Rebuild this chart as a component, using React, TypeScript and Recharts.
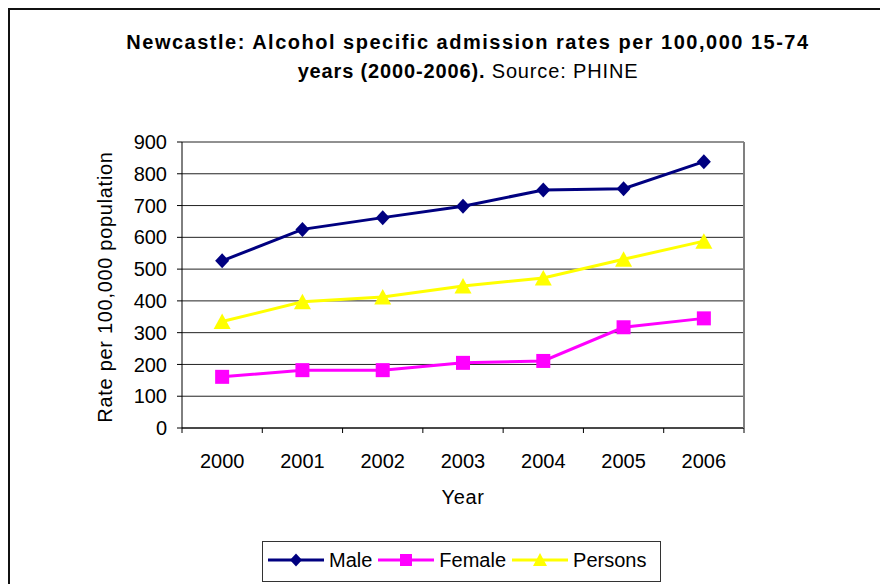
import React from 'react';
import { LineChart, Line, XAxis, YAxis, CartesianGrid } from 'recharts';

const years = ['2000', '2001', '2002', '2003', '2004', '2005', '2006'];
const male = [526, 625, 662, 698, 749, 753, 838];
const female = [161, 182, 182, 205, 211, 317, 345];
const persons = [335, 397, 412, 447, 472, 531, 588];
const yTicks = [0, 100, 200, 300, 400, 500, 600, 700, 800, 900];

const data = years.map((year, i) => ({
  year,
  male: male[i],
  female: female[i],
  persons: persons[i],
}));

const FONT = '"Liberation Sans", Arial, sans-serif';
const NAVY = '#000080';
const MAGENTA = '#FF00FF';
const YELLOW = '#FFFF00';
const X_TICK_SIZE = 6;
const X_TICK_MARGIN = 20;

const Diamond = (props: any) => {
  const { cx, cy, index } = props;
  if (cx == null || cy == null) return <g key={`d${index}`} />;
  return (
    <path
      key={`d${index}`}
      d={`M${cx},${cy - 7.5}L${cx + 7},${cy}L${cx},${cy + 7.5}L${cx - 7},${cy}Z`}
      fill={NAVY}
      stroke="none"
    />
  );
};

const Square = (props: any) => {
  const { cx, cy, index } = props;
  if (cx == null || cy == null) return <g key={`s${index}`} />;
  return <rect key={`s${index}`} x={cx - 7} y={cy - 7} width={14} height={14} fill={MAGENTA} stroke="none" />;
};

const Triangle = (props: any) => {
  const { cx, cy, index } = props;
  if (cx == null || cy == null) return <g key={`t${index}`} />;
  return (
    <path
      key={`t${index}`}
      d={`M${cx},${cy - 8}L${cx + 8.5},${cy + 7.5}L${cx - 8.5},${cy + 7.5}Z`}
      fill={YELLOW}
      stroke="none"
    />
  );
};

const XTick = (props: any) => {
  const { x, y, payload, index, visibleTicksCount, width } = props;
  const count = visibleTicksCount || years.length;
  const band = Number(width) / count;
  const axisY = y - X_TICK_SIZE - X_TICK_MARGIN;
  return (
    <g>
      <line x1={x - band / 2} x2={x - band / 2} y1={axisY} y2={axisY + 5} stroke="#000" strokeWidth={1} />
      {index === count - 1 && (
        <line x1={x + band / 2} x2={x + band / 2} y1={axisY} y2={axisY + 5} stroke="#000" strokeWidth={1} />
      )}
      <text x={x} y={y} dy="0.71em" textAnchor="middle" fontFamily={FONT} fontSize={20} fill="#000">
        {payload.value}
      </text>
    </g>
  );
};

const YLabel = (props: any) => {
  const vb = props.viewBox || {};
  const x = vb.x - 10;
  const y = vb.y + vb.height / 2 + 2;
  return (
    <text
      x={x}
      y={y}
      transform={`rotate(-90, ${x}, ${y})`}
      textAnchor="middle"
      fontFamily={FONT}
      fontSize={20}
      letterSpacing={0.7}
      fill="#000"
    >
      Rate per 100,000 population
    </text>
  );
};

const XLabel = (props: any) => {
  const vb = props.viewBox || {};
  const x = vb.x + vb.width / 2;
  return (
    <text x={x} y={vb.y + 76} textAnchor="middle" fontFamily={FONT} fontSize={20} letterSpacing={0.6} fill="#000">
      Year
    </text>
  );
};

const LegendItem = ({ color, shape, label }: { color: string; shape: string; label: string }) => (
  <div style={{ display: 'flex', alignItems: 'center' }}>
    <svg width={56} height={20} style={{ display: 'block' }}>
      <line x1={0} y1={10} x2={56} y2={10} stroke={color} strokeWidth={3} />
      {shape === 'diamond' && <path d="M28,3.5L34,10L28,16.5L22,10Z" fill={color} />}
      {shape === 'square' && <rect x={22} y={4} width={12} height={12} fill={color} />}
      {shape === 'triangle' && <path d="M28,3L35,16L21,16Z" fill={color} />}
    </svg>
    <span style={{ marginLeft: 5, fontSize: 20, fontFamily: FONT, color: '#000', lineHeight: '20px' }}>{label}</span>
  </div>
);

export default function App() {
  return (
    <div
      style={{
        position: 'fixed',
        left: 0,
        top: 0,
        width: 880,
        height: 584,
        overflow: 'hidden',
        background: '#fff',
        fontFamily: FONT,
      }}
    >
      <div
        style={{
          position: 'absolute',
          left: 8,
          top: 8,
          width: 900,
          height: 600,
          borderTop: '2px solid #111',
          borderLeft: '2px solid #111',
          boxSizing: 'border-box',
        }}
      />
      <div
        style={{
          position: 'absolute',
          left: 0,
          width: 936,
          top: 28,
          textAlign: 'center',
          fontSize: 20,
          lineHeight: '29px',
          color: '#000',
          whiteSpace: 'nowrap',
        }}
      >
        <div style={{ fontWeight: 'bold', letterSpacing: 1.5 }}>
          Newcastle: Alcohol specific admission rates per 100,000 15-74
        </div>
        <div style={{ letterSpacing: 0.85 }}>
          <span style={{ fontWeight: 'bold' }}>years (2000-2006).</span> Source: PHINE
        </div>
      </div>
      <div style={{ position: 'absolute', left: 0, top: 0 }}>
        <LineChart width={880} height={584} data={data} margin={{ top: 142, right: 135, left: 122, bottom: 116 }}>
          <CartesianGrid horizontal vertical={false} stroke="#222" strokeWidth={1} />
          <XAxis
            dataKey="year"
            type="category"
            scale="band"
            height={40}
            axisLine={{ stroke: '#000' }}
            tickLine={false}
            tickSize={X_TICK_SIZE}
            tickMargin={X_TICK_MARGIN}
            tick={<XTick />}
            interval={0}
            label={<XLabel />}
          />
          <YAxis
            width={60}
            domain={[0, 900]}
            ticks={yTicks}
            interval={0}
            tickSize={5}
            tickMargin={10}
            tickLine={{ stroke: '#000' }}
            axisLine={{ stroke: '#000' }}
            tick={{ fontFamily: FONT, fontSize: 20, fill: '#000' }}
            label={<YLabel />}
          />
          <YAxis
            yAxisId="right"
            orientation="right"
            width={1}
            domain={[0, 900]}
            ticks={yTicks}
            tick={false}
            tickLine={false}
            axisLine={{ stroke: '#808080', strokeWidth: 2 }}
          />
          <Line
            dataKey="male"
            stroke={NAVY}
            strokeWidth={3}
            dot={Diamond}
            activeDot={false}
            isAnimationActive={false}
          />
          <Line
            dataKey="female"
            stroke={MAGENTA}
            strokeWidth={3}
            dot={Square}
            activeDot={false}
            isAnimationActive={false}
          />
          <Line
            dataKey="persons"
            stroke={YELLOW}
            strokeWidth={3}
            dot={Triangle}
            activeDot={false}
            isAnimationActive={false}
          />
        </LineChart>
      </div>
      <div
        style={{
          position: 'absolute',
          left: 262,
          top: 541,
          width: 399,
          height: 41,
          border: '1px solid #333',
          boxSizing: 'border-box',
          display: 'flex',
          alignItems: 'center',
          paddingLeft: 5,
          paddingBottom: 3,
          gap: 6,
          background: '#fff',
        }}
      >
        <LegendItem color={NAVY} shape="diamond" label="Male" />
        <LegendItem color={MAGENTA} shape="square" label="Female" />
        <LegendItem color={YELLOW} shape="triangle" label="Persons" />
      </div>
    </div>
  );
}
